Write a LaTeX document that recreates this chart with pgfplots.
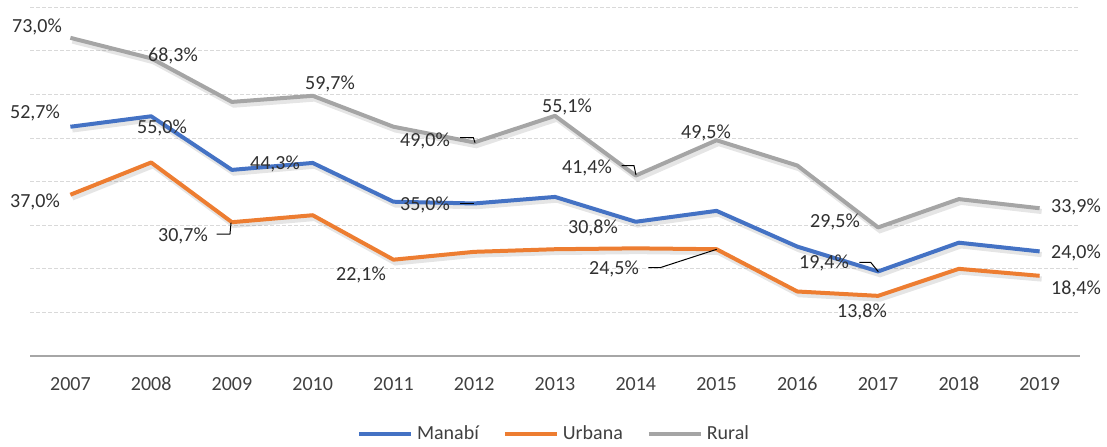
\documentclass[border=0pt]{standalone}
\usepackage{fontspec}
\setmainfont{Carlito}
\usepackage{pgfplots}
\pgfplotsset{compat=1.18}
\definecolor{cBlue}{HTML}{4472C4}
\definecolor{cOrange}{HTML}{ED7D31}
\definecolor{cGray}{HTML}{A5A5A5}
\definecolor{gridc}{HTML}{D9D9D9}
\definecolor{axisc}{HTML}{A6A6A6}
\definecolor{tickc}{HTML}{404040}
\definecolor{lblc}{HTML}{303030}
\tikzset{
  lbl/.style={font=\fontsize{10}{12}\selectfont, text=lblc, inner sep=0pt, anchor=center},
  ldr/.style={draw=black, line width=0.5pt},
}
\begin{document}
\begin{tikzpicture}
\useasboundingbox (0,0) rectangle (553.5pt,223pt);
\begin{axis}[
  at={(15pt,45pt)}, anchor=south west,
  scale only axis, width=525pt, height=174.35pt,
  xmin=-0.5, xmax=12.5, ymin=0, ymax=80,
  xtick={0,...,12},
  xticklabels={2007,2008,2009,2010,2011,2012,2013,2014,2015,2016,2017,2018,2019},
  ytick={10,20,30,40,50,60,70,80}, yticklabels={},
  ymajorgrids,
  grid style={dash pattern=on 2pt off 1pt, draw=gridc, line width=0.5pt},
  major tick length=0pt,
  axis x line*=bottom, axis y line*=left,
  x axis line style={draw=axisc, line width=0.75pt},
  y axis line style={draw=none},
  xticklabel style={anchor=base, yshift=-17.25pt, font=\fontsize{10}{12}\selectfont, text=tickc},
  clip=false,
  legend columns=3,
  legend style={draw=none, at={(0.5,-0.2237)}, anchor=center,
    font=\fontsize{10}{12}\selectfont, text=tickc,
    /tikz/every even column/.append style={column sep=10pt}},
  legend image code/.code={\draw[#1, line width=2pt] (0pt,0pt) -- (26pt,0pt);},
]
% shadows
\addplot[forget plot, draw=black, opacity=0.10, line width=2.6pt, xshift=1pt, yshift=-1.6pt] coordinates {
(0,73.0) (1,68.3) (2,58.3) (3,59.7) (4,52.6) (5,49.0) (6,55.1) (7,41.4) (8,49.5) (9,43.7) (10,29.5) (11,36.0) (12,33.9)};
\addplot[forget plot, draw=black, opacity=0.10, line width=2.6pt, xshift=1pt, yshift=-1.6pt] coordinates {
(0,52.6) (1,55.0) (2,42.7) (3,44.3) (4,35.4) (5,35.0) (6,36.5) (7,30.8) (8,33.3) (9,25.1) (10,19.4) (11,26.0) (12,24.0)};
\addplot[forget plot, draw=black, opacity=0.10, line width=2.6pt, xshift=1pt, yshift=-1.6pt] coordinates {
(0,37.0) (1,44.4) (2,30.7) (3,32.3) (4,22.1) (5,23.9) (6,24.5) (7,24.7) (8,24.5) (9,14.8) (10,13.8) (11,20.0) (12,18.4)};
% series
\addplot[draw=cBlue, line width=2pt, line join=round] coordinates {
(0,52.6) (1,55.0) (2,42.7) (3,44.3) (4,35.4) (5,35.0) (6,36.5) (7,30.8) (8,33.3) (9,25.1) (10,19.4) (11,26.0) (12,24.0)};
\addlegendentry{Manabí}
\addplot[draw=cOrange, line width=2pt, line join=round] coordinates {
(0,37.0) (1,44.4) (2,30.7) (3,32.3) (4,22.1) (5,23.9) (6,24.5) (7,24.7) (8,24.5) (9,14.8) (10,13.8) (11,20.0) (12,18.4)};
\addlegendentry{Urbana}
\addplot[draw=cGray, line width=2pt, line join=round] coordinates {
(0,73.0) (1,68.3) (2,58.3) (3,59.7) (4,52.6) (5,49.0) (6,55.1) (7,41.4) (8,49.5) (9,43.7) (10,29.5) (11,36.0) (12,33.9)};
\addlegendentry{Rural}
% data labels
\node[lbl] at (axis cs:-0.413,75.48) {73,0\%};
\node[lbl] at (axis cs:1.270,68.82) {68,3\%};
\node[lbl] at (axis cs:3.214,62.40) {59,7\%};
\node[lbl] at (axis cs:-0.438,55.75) {52,7\%};
\node[lbl] at (axis cs:1.134,52.31) {55,0\%};
\node[lbl] at (axis cs:2.533,44.05) {44,3\%};
\node[lbl] at (axis cs:-0.438,35.33) {37,0\%};
\node[lbl] at (axis cs:1.394,27.53) {30,7\%};
\node[lbl] at (axis cs:3.598,18.58) {22,1\%};
\node[lbl] at (axis cs:4.390,49.32) {49,0\%};
\node[lbl] at (axis cs:4.390,34.64) {35,0\%};
\node[lbl] at (axis cs:6.148,57.12) {55,1\%};
\node[lbl] at (axis cs:6.396,43.13) {41,4\%};
\node[lbl] at (axis cs:7.869,51.16) {49,5\%};
\node[lbl] at (axis cs:6.470,29.36) {30,8\%};
\node[lbl] at (axis cs:6.730,19.96) {24,5\%};
\node[lbl] at (axis cs:9.467,30.74) {29,5\%};
\node[lbl] at (axis cs:9.330,21.34) {19,4\%};
\node[lbl] at (axis cs:9.801,10.09) {13,8\%};
\node[lbl] at (axis cs:12.450,34.18) {33,9\%};
\node[lbl] at (axis cs:12.450,23.63) {24,0\%};
\node[lbl] at (axis cs:12.450,15.37) {18,4\%};
% leader lines
\draw[ldr] (axis cs:1.812,27.99) -- (axis cs:1.976,27.99) -- (axis cs:1.989,30.58);
\draw[ldr] (axis cs:4.824,50.08) -- (axis cs:4.989,50.08) -- (axis cs:5.010,48.93);
\draw[ldr] (axis cs:4.824,35.03) -- (axis cs:4.997,35.03);
\draw[ldr] (axis cs:6.826,43.66) -- (axis cs:6.978,43.66) -- (axis cs:7.003,41.52);
\draw[ldr] (axis cs:7.155,20.26) -- (axis cs:7.300,20.26) -- (axis cs:8.002,24.48);
\draw[ldr] (axis cs:9.767,21.50) -- (axis cs:9.908,21.50) -- (axis cs:10.003,19.34);
\end{axis}
\end{tikzpicture}
\end{document}
